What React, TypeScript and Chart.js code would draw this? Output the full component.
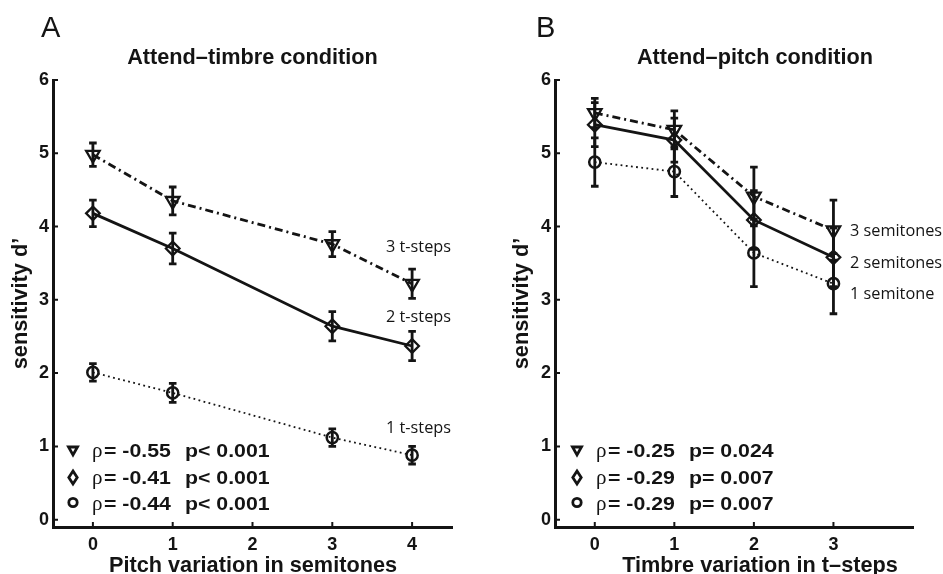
import React, { useEffect, useRef } from 'react';
import { Chart, registerables } from 'chart.js';
Chart.register(...registerables);

const SANS = '"Liberation Sans", Arial, Helvetica, sans-serif';
const LABEL_FONT = '"Open Sans", "Noto Sans", sans-serif';
const SERIF = '"Liberation Serif", "DejaVu Serif", serif';
const INK = '#141414';

// ---- ticks ----
const yTicks = [0, 1, 2, 3, 4, 5, 6];
const xTicksA = [0, 1, 2, 3, 4];
const xTicksB = [0, 1, 2, 3];

// ---- Panel A: Attend-timbre condition ----
const xA = [0, 1, 3, 4];
const aTri = [4.98, 4.35, 3.76, 3.22];
const aTriErr = [0.16, 0.19, 0.17, 0.2];
const aDia = [4.18, 3.7, 2.64, 2.37];
const aDiaErr = [0.18, 0.21, 0.2, 0.2];
const aCir = [2.01, 1.73, 1.12, 0.88];
const aCirErr = [0.12, 0.13, 0.12, 0.12];
const labelsA = ['3 t-steps', '2 t-steps', '1 t-steps'];
const rhoA = ['-0.55', '-0.41', '-0.44'];
const pA = ['p< 0.001', 'p< 0.001', 'p< 0.001'];

// ---- Panel B: Attend-pitch condition ----
const xB = [0, 1, 2, 3];
const bTri = [5.55, 5.32, 4.41, 3.95];
const bTriErr = [0.2, 0.26, 0.4, 0.41];
const bDia = [5.39, 5.18, 4.09, 3.58];
const bDiaErr = [0.3, 0.3, 0.4, 0.4];
const bCir = [4.88, 4.75, 3.64, 3.22];
const bCirErr = [0.33, 0.34, 0.46, 0.41];
const labelsB = ['3 semitones', '2 semitones', '1 semitone'];
const rhoB = ['-0.25', '-0.29', '-0.29'];
const pB = ['p= 0.024', 'p= 0.007', 'p= 0.007'];

type Series = { values: number[]; errs: number[] };
type Panel = {
  left: number;
  width: number;
  areaLeft: number;
  areaRight: number;
  xMin: number;
  xMax: number;
  xTicks: number[];
  xs: number[];
  series: Series[];
  letter: string;
  letterX: number;
  title: string;
  titleX: number;
  xTitle: string;
  xTitleX: number;
  yTitleX: number;
  seriesLabels: string[];
  seriesLabelX: number;
  seriesLabelY: number[];
  rho: string[];
  pText: string[];
  legendX: number;
};

const panelA: Panel = {
  left: 0,
  width: 471,
  areaLeft: 53,
  areaRight: 452,
  xMin: -0.5,
  xMax: 4.5,
  xTicks: xTicksA,
  xs: xA,
  series: [
    { values: aTri, errs: aTriErr },
    { values: aDia, errs: aDiaErr },
    { values: aCir, errs: aCirErr },
  ],
  letter: 'A',
  letterX: 41,
  title: 'Attend\u2013timbre condition',
  titleX: 252.5,
  xTitle: 'Pitch variation in semitones',
  xTitleX: 253,
  yTitleX: 27,
  seriesLabels: labelsA,
  seriesLabelX: 386,
  seriesLabelY: [252, 322, 433],
  rho: rhoA,
  pText: pA,
  legendX: 73,
};

const panelB: Panel = {
  left: 471,
  width: 472,
  areaLeft: 84,
  areaRight: 442,
  xMin: -0.5,
  xMax: 4,
  xTicks: xTicksB,
  xs: xB,
  series: [
    { values: bTri, errs: bTriErr },
    { values: bDia, errs: bDiaErr },
    { values: bCir, errs: bCirErr },
  ],
  letter: 'B',
  letterX: 65,
  title: 'Attend\u2013pitch condition',
  titleX: 284,
  xTitle: 'Timbre variation in t\u2013steps',
  xTitleX: 289,
  yTitleX: 57,
  seriesLabels: labelsB,
  seriesLabelX: 379,
  seriesLabelY: [236, 268, 299],
  rho: rhoB,
  pText: pB,
  legendX: 106,
};

const LEG_BASE = [457, 483.5, 510];
const LEG_MARK = [451, 477.5, 502.5];

function drawLegendMarker(ctx: CanvasRenderingContext2D, kind: number, x: number, y: number) {
  ctx.save();
  ctx.strokeStyle = INK;
  ctx.lineWidth = 2.8;
  ctx.lineJoin = 'miter';
  ctx.beginPath();
  if (kind === 0) {
    ctx.moveTo(x - 4.5, y - 4);
    ctx.lineTo(x + 4.5, y - 4);
    ctx.lineTo(x, y + 4);
    ctx.closePath();
  } else if (kind === 1) {
    ctx.moveTo(x, y - 6.5);
    ctx.lineTo(x + 4.2, y);
    ctx.lineTo(x, y + 6.5);
    ctx.lineTo(x - 4.2, y);
    ctx.closePath();
  } else {
    ctx.arc(x, y, 4.2, 0, Math.PI * 2);
  }
  ctx.stroke();
  ctx.restore();
}

function makePlugin(p: Panel) {
  return {
    id: 'panelDecor',
    beforeDatasetsDraw(chart: any) {
      const { ctx, scales } = chart;
      const x = scales.x;
      const y = scales.y;
      ctx.save();
      ctx.strokeStyle = INK;
      ctx.lineWidth = 2.8;
      ctx.lineCap = 'butt';
      p.series.forEach((s) => {
        s.values.forEach((v, i) => {
          const px = x.getPixelForValue(p.xs[i]);
          const top = y.getPixelForValue(v + s.errs[i]);
          const bot = y.getPixelForValue(v - s.errs[i]);
          ctx.beginPath();
          ctx.moveTo(px, top);
          ctx.lineTo(px, bot);
          ctx.moveTo(px - 3.8, top);
          ctx.lineTo(px + 3.8, top);
          ctx.moveTo(px - 3.8, bot);
          ctx.lineTo(px + 3.8, bot);
          ctx.stroke();
        });
      });
      ctx.restore();
    },
    afterDraw(chart: any) {
      const { ctx, scales, chartArea } = chart;
      const x = scales.x;
      const y = scales.y;
      ctx.save();
      // inward tick marks
      ctx.strokeStyle = INK;
      ctx.lineWidth = 2;
      ctx.beginPath();
      p.xTicks.forEach((t) => {
        const px = x.getPixelForValue(t);
        ctx.moveTo(px, chartArea.bottom);
        ctx.lineTo(px, chartArea.bottom - 5);
      });
      yTicks.forEach((t) => {
        const py = y.getPixelForValue(t);
        ctx.moveTo(chartArea.left, py);
        ctx.lineTo(chartArea.left + 5, py);
      });
      ctx.stroke();

      ctx.fillStyle = INK;
      // panel letter
      ctx.font = `29px ${SANS}`;
      ctx.textAlign = 'left';
      ctx.textBaseline = 'alphabetic';
      ctx.fillText(p.letter, p.letterX, 37);
      // title
      ctx.font = `bold 21.7px ${SANS}`;
      ctx.textAlign = 'center';
      ctx.fillText(p.title, p.titleX, 64);
      // x title
      ctx.font = `bold 21.7px ${SANS}`;
      ctx.fillText(p.xTitle, p.xTitleX, 572);
      // y title
      ctx.save();
      ctx.translate(p.yTitleX, (chartArea.top + chartArea.bottom) / 2);
      ctx.rotate(-Math.PI / 2);
      ctx.font = `bold 21.7px ${SANS}`;
      ctx.textAlign = 'center';
      ctx.fillText('sensitivity d\u2019', 0, 0);
      ctx.restore();
      // series labels
      ctx.font = `16.3px ${LABEL_FONT}`;
      ctx.textAlign = 'left';
      p.seriesLabels.forEach((s, i) => ctx.fillText(s, p.seriesLabelX, p.seriesLabelY[i]));
      // legend
      for (let i = 0; i < 3; i++) {
        drawLegendMarker(ctx, i, p.legendX, LEG_MARK[i]);
        ctx.font = `21px ${SERIF}`;
        ctx.textAlign = 'left';
        ctx.fillText('\u03c1', p.legendX + 19, LEG_BASE[i]);
        ctx.font = `bold 18.5px ${SANS}`;
        ctx.save();
        ctx.translate(p.legendX + 31, LEG_BASE[i]);
        ctx.scale(1.15, 1);
        ctx.fillText('= ' + p.rho[i], 0, 0);
        ctx.restore();
        ctx.save();
        ctx.translate(p.legendX + 112, LEG_BASE[i]);
        ctx.scale(1.15, 1);
        ctx.fillText(p.pText[i], 0, 0);
        ctx.restore();
      }
      ctx.restore();
    },
  };
}

function PanelChart({ p }: { p: Panel }) {
  const ref = useRef<HTMLCanvasElement>(null);
  useEffect(() => {
    const canvas = ref.current;
    if (!canvas) return;
    const [tri, dia, cir] = p.series;
    const toPts = (vals: number[]) => vals.map((v, i) => ({ x: p.xs[i], y: v }));
    const tickFont = { family: SANS, size: 18, weight: 'bold' as const };
    const chart = new Chart(canvas, {
      type: 'line',
      data: {
        datasets: [
          {
            data: toPts(tri.values),
            borderColor: INK,
            borderWidth: 2.8,
            borderDash: [8, 4, 2, 4],
            pointStyle: 'triangle',
            pointRotation: 180,
            pointRadius: 7.8,
            pointBorderWidth: 2.3,
            pointBorderColor: INK,
            pointBackgroundColor: 'rgba(0,0,0,0)',
            tension: 0,
          },
          {
            data: toPts(dia.values),
            borderColor: INK,
            borderWidth: 2.8,
            pointStyle: 'rectRot',
            pointRadius: 6.8,
            pointBorderWidth: 2.3,
            pointBorderColor: INK,
            pointBackgroundColor: 'rgba(0,0,0,0)',
            tension: 0,
          },
          {
            data: toPts(cir.values),
            borderColor: INK,
            borderWidth: 1.8,
            borderDash: [1.8, 3.4],
            pointStyle: 'circle',
            pointRadius: 5.6,
            pointBorderWidth: 2.5,
            pointBorderColor: INK,
            pointBackgroundColor: 'rgba(0,0,0,0)',
            tension: 0,
          },
        ],
      },
      options: {
        responsive: false,
        animation: false,
        devicePixelRatio: 1,
        layout: { padding: { left: 0, right: p.width - p.areaRight, top: 80, bottom: 0 } },
        plugins: {
          legend: { display: false },
          tooltip: { enabled: false },
          title: { display: false },
        },
        scales: {
          x: {
            type: 'linear',
            min: p.xMin,
            max: p.xMax,
            afterBuildTicks: (s: any) => {
              s.ticks = p.xTicks.map((v) => ({ value: v }));
            },
            afterFit: (s: any) => {
              s.height = 47;
            },
            grid: { display: false, drawTicks: false },
            border: { display: true, color: INK, width: 3 },
            ticks: { font: tickFont, color: INK, padding: 7, autoSkip: false, maxRotation: 0 },
          },
          y: {
            type: 'linear',
            min: -0.1,
            max: 6,
            afterBuildTicks: (s: any) => {
              s.ticks = yTicks.map((v) => ({ value: v }));
            },
            afterFit: (s: any) => {
              s.width = p.areaLeft;
            },
            grid: { display: false, drawTicks: false },
            border: { display: true, color: INK, width: 3 },
            ticks: { font: tickFont, color: INK, padding: 4, autoSkip: false },
          },
        },
      },
      plugins: [makePlugin(p)],
    } as any);
    return () => chart.destroy();
  }, [p]);
  return (
    <canvas
      ref={ref}
      width={p.width}
      height={574}
      style={{ position: 'absolute', left: p.left, top: 0, width: p.width, height: 574 }}
    />
  );
}

export default function App() {
  return (
    <div style={{ position: 'absolute', left: 0, top: 0, width: 943, height: 574, background: '#fff', overflow: 'hidden' }}>
      <PanelChart p={panelA} />
      <PanelChart p={panelB} />
    </div>
  );
}
